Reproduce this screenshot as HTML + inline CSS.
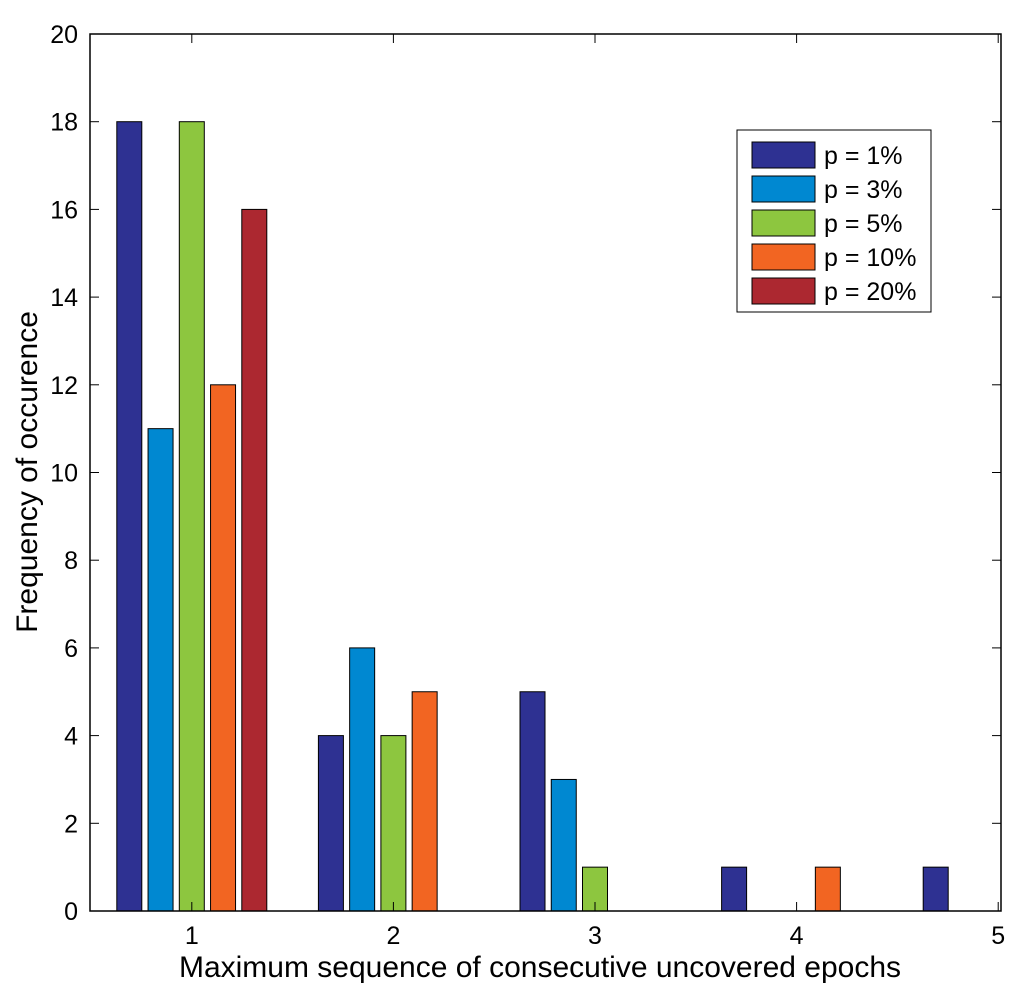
<!DOCTYPE html>
<html><head><meta charset="utf-8"><style>
body{margin:0;background:#fff;}
svg{display:block;font-family:"Liberation Sans",Arial,sans-serif;}
</style></head><body>
<svg id="chart" width="1024" height="991">
<g id="bars"></g>
<rect x="90" y="34" width="911" height="877" fill="none" stroke="#000" stroke-width="1.5"/>
<g id="axes" font-size="25"></g>
<text x="540" y="977" font-size="30" text-anchor="middle">Maximum sequence of consecutive uncovered epochs</text>
<text transform="translate(37,472) rotate(-90)" font-size="30" text-anchor="middle">Frequency of occurence</text>
<g id="legend"></g>
</svg>
<script>
const categories=[1,2,3,4,5];
const seriesNames=["p = 1%","p = 3%","p = 5%","p = 10%","p = 20%"];
const p1=[18,4,5,1,1];
const p3=[11,6,3,0,0];
const p5=[18,4,1,0,0];
const p10=[12,5,0,1,0];
const p20=[16,0,0,0,0];
const yTicks=[0,2,4,6,8,10,12,14,16,18,20];
const xTicks=[1,2,3,4,5];
const colors=["#2e3192","#0088d1","#8dc63f","#f26522","#ac2830"];
const series=[p1,p3,p5,p10,p20];
const NS="http://www.w3.org/2000/svg";
const X=v=>91+(v-0.5)*201.6;
const Y=v=>911-v*43.85;
const bars=document.getElementById('bars');
const offs=[-0.31,-0.155,0,0.155,0.31];
series.forEach((s,si)=>{s.forEach((v,ci)=>{if(v<=0)return;
 const r=document.createElementNS(NS,'rect');
 const cx=X(categories[ci]+offs[si]);
 r.setAttribute('x',cx-12.5);r.setAttribute('width',25);
 r.setAttribute('y',Y(v));r.setAttribute('height',Y(0)-Y(v));
 r.setAttribute('fill',colors[si]);r.setAttribute('stroke','#000');r.setAttribute('stroke-width','1');
 
 
 bars.appendChild(r);});});
const axes=document.getElementById('axes');
yTicks.forEach(t=>{
 const y=Y(t);
 [[90,99],[1001,992]].forEach(([a,b])=>{const l=document.createElementNS(NS,'line');
 l.setAttribute('x1',a);l.setAttribute('x2',b);l.setAttribute('y1',y);l.setAttribute('y2',y);l.setAttribute('stroke','#000');
 
 
 axes.appendChild(l);});
 const tx=document.createElementNS(NS,'text');
 tx.setAttribute('x',78);tx.setAttribute('y',y+9);tx.setAttribute('text-anchor','end');tx.textContent=t;
 
 
 axes.appendChild(tx);});
xTicks.forEach(t=>{
 const x=X(t);
 [[911,902],[34,43]].forEach(([a,b])=>{const l=document.createElementNS(NS,'line');
 l.setAttribute('x1',x);l.setAttribute('x2',x);l.setAttribute('y1',a);l.setAttribute('y2',b);l.setAttribute('stroke','#000');
 
 
 axes.appendChild(l);});
 const tx=document.createElementNS(NS,'text');
 tx.setAttribute('x',x);tx.setAttribute('y',944);tx.setAttribute('text-anchor','middle');tx.textContent=t;
 
 
 axes.appendChild(tx);});
const lg=document.getElementById('legend');
const box=document.createElementNS(NS,'rect');
box.setAttribute('x',737);box.setAttribute('y',130);box.setAttribute('width',194);box.setAttribute('height',182);
box.setAttribute('fill','#fff');box.setAttribute('stroke','#000');


lg.appendChild(box);
seriesNames.forEach((n,i)=>{
 const y=155+i*34;
 const r=document.createElementNS(NS,'rect');
 r.setAttribute('x',752);r.setAttribute('y',y-13);r.setAttribute('width',63);r.setAttribute('height',26);
 r.setAttribute('fill',colors[i]);r.setAttribute('stroke','#000');
 
 
 lg.appendChild(r);
 const t=document.createElementNS(NS,'text');
 t.setAttribute('x',824);t.setAttribute('y',y+9);t.setAttribute('font-size','25');t.textContent=n;
 
 
 lg.appendChild(t);});
</script>
</body></html>
